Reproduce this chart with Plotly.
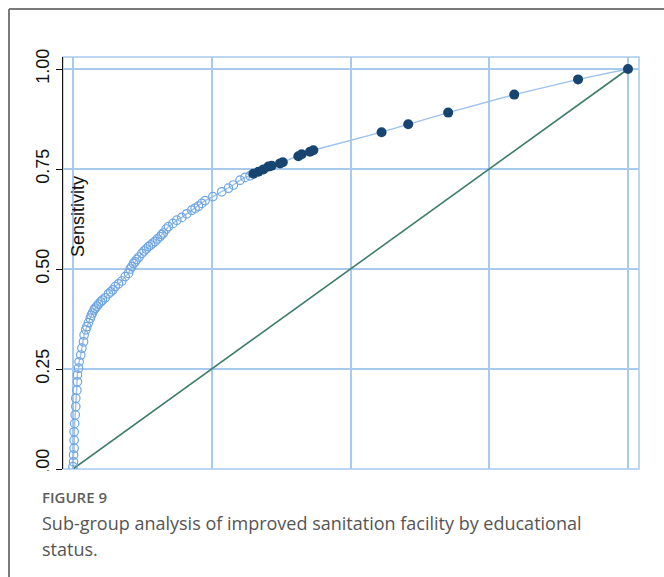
import plotly.graph_objects as go

# ROC coordinates: 1 - specificity (x) and sensitivity (y)
fpr_open = [0.000, 0.001, 0.001, 0.002, 0.002, 0.002, 0.003, 0.004, 0.005, 0.005,
            0.007, 0.008, 0.008, 0.010, 0.011, 0.014, 0.016, 0.019, 0.020, 0.023,
            0.025, 0.028, 0.031, 0.033, 0.035, 0.038, 0.040, 0.043, 0.046, 0.050,
            0.053, 0.058, 0.064, 0.068, 0.072, 0.076, 0.082, 0.088, 0.094, 0.100,
            0.103, 0.106, 0.109, 0.112, 0.115, 0.119, 0.124, 0.128, 0.132, 0.136,
            0.140, 0.144, 0.148, 0.152, 0.157, 0.160, 0.163, 0.168, 0.172, 0.180,
            0.187, 0.196, 0.205, 0.214, 0.220, 0.226, 0.232, 0.238, 0.252, 0.268,
            0.280, 0.289, 0.301, 0.310, 0.319]
sens_open = [0.006, 0.018, 0.035, 0.052, 0.072, 0.093, 0.114, 0.135, 0.156, 0.177,
             0.197, 0.218, 0.235, 0.252, 0.268, 0.285, 0.302, 0.318, 0.335, 0.348,
             0.356, 0.366, 0.377, 0.384, 0.390, 0.398, 0.402, 0.407, 0.412, 0.418,
             0.422, 0.428, 0.438, 0.443, 0.448, 0.456, 0.463, 0.470, 0.481, 0.489,
             0.500, 0.506, 0.514, 0.518, 0.524, 0.530, 0.539, 0.545, 0.550, 0.556,
             0.560, 0.565, 0.569, 0.575, 0.581, 0.586, 0.590, 0.600, 0.606, 0.614,
             0.622, 0.629, 0.638, 0.647, 0.652, 0.657, 0.664, 0.671, 0.681, 0.693,
             0.702, 0.710, 0.722, 0.729, 0.733]

fpr_filled = [0.325, 0.334, 0.343, 0.352, 0.358, 0.373, 0.378, 0.406, 0.412, 0.427,
              0.433, 0.556, 0.604, 0.676, 0.795, 0.910, 1.000]
sens_filled = [0.738, 0.743, 0.749, 0.756, 0.758, 0.764, 0.767, 0.782, 0.787, 0.793,
               0.797, 0.842, 0.862, 0.891, 0.936, 0.974, 1.000]

ref_line = [0, 1]
y_ticks = [0, 0.25, 0.5, 0.75, 1.0]
y_tick_text = ["0.00", "0.25", "0.50", "0.75", "1.00"]
x_grid = [0, 0.25, 0.5, 0.75, 1.0]

caption_head = "FIGURE 9"
caption_lines = ["Sub-group analysis of improved sanitation facility by educational",
                 "status."]

GRID = "#a8caee"
W, H = 664, 577
ML, MR, MT, MB = 63, 25, 57, 108
PW, PH = W - ML - MR, H - MT - MB


def px(xp):
    return (xp - ML) / PW


def py(yp):
    return (H - MB - yp) / PH


fig = go.Figure()

fig.add_trace(go.Scatter(x=ref_line, y=ref_line, mode="lines",
                         line=dict(color="#3e7d6b", width=1.6),
                         hoverinfo="skip", showlegend=False))

fig.add_trace(go.Scatter(x=[0] + fpr_open + fpr_filled, y=[0] + sens_open + sens_filled,
                         mode="lines", line=dict(color="#9cc2ec", width=1.4),
                         showlegend=False))

fig.add_trace(go.Scatter(x=fpr_open, y=sens_open, mode="markers",
                         marker=dict(symbol="circle-open", size=8.5, color="#6ea6e2",
                                     line=dict(width=1.2)),
                         showlegend=False))

fig.add_trace(go.Scatter(x=fpr_filled, y=sens_filled, mode="markers",
                         marker=dict(symbol="circle", size=10, color="#17456f"),
                         showlegend=False))

shapes = []
# light blue plot frame
shapes.append(dict(type="rect", xref="paper", yref="paper", x0=0, x1=1, y0=0, y1=1,
                   line=dict(color=GRID, width=1.5), layer="below"))
# outer page border (left and top)
shapes.append(dict(type="line", xref="paper", yref="paper", x0=px(9), x1=px(9),
                   y0=py(9), y1=py(H + 5), line=dict(color="#7a7a7a", width=2),
                   layer="above"))
shapes.append(dict(type="line", xref="paper", yref="paper", x0=px(9), x1=px(W + 5),
                   y0=py(9), y1=py(9), line=dict(color="#7a7a7a", width=2),
                   layer="above"))
# trim under the plot edge
shapes.append(dict(type="rect", xref="paper", yref="paper", x0=px(11), x1=px(62),
                   y0=py(471), y1=py(489), line=dict(width=0), fillcolor="white",
                   layer="above"))

annotations = [
    dict(text="Sensitivity", x=0.009, y=0.63, xref="x", yref="y", textangle=-90,
         showarrow=False, xanchor="center", yanchor="middle",
         font=dict(family="Liberation Sans, Arial", size=18, color="#111")),
    dict(text=caption_head, x=px(40), y=py(497), xref="paper", yref="paper",
         showarrow=False, xanchor="left", yanchor="middle",
         font=dict(family="Open Sans", size=15, color="#5e5e5e", weight=600)),
]
for i, line in enumerate(caption_lines):
    annotations.append(dict(text=line, x=px(40), y=py(523 + 26 * i), xref="paper",
                            yref="paper", showarrow=False, xanchor="left",
                            yanchor="middle",
                            font=dict(family="Open Sans", size=18, color="#555")))

fig.update_layout(
    width=W, height=H,
    margin=dict(l=ML, r=MR, t=MT, b=MB),
    paper_bgcolor="white", plot_bgcolor="white",
    xaxis=dict(range=[-10 / 555, 1 + 11 / 555], tickvals=x_grid, showticklabels=False,
               ticks="", showgrid=True, gridcolor=GRID, gridwidth=1.5,
               zeroline=False, showline=False, fixedrange=True),
    yaxis=dict(range=[0, 1.03], tickvals=y_ticks, ticktext=y_tick_text, tickangle=-90,
               ticks="outside", ticklen=6, tickcolor="#111", tickwidth=1.3,
               tickfont=dict(family="Liberation Sans, Arial", size=18, color="#111"),
               showgrid=True, gridcolor=GRID, gridwidth=1.5, zeroline=False,
               showline=True, linecolor="#111", linewidth=1.3, fixedrange=True),
    shapes=shapes, annotations=annotations,
)

fig.write_html("out.html")
